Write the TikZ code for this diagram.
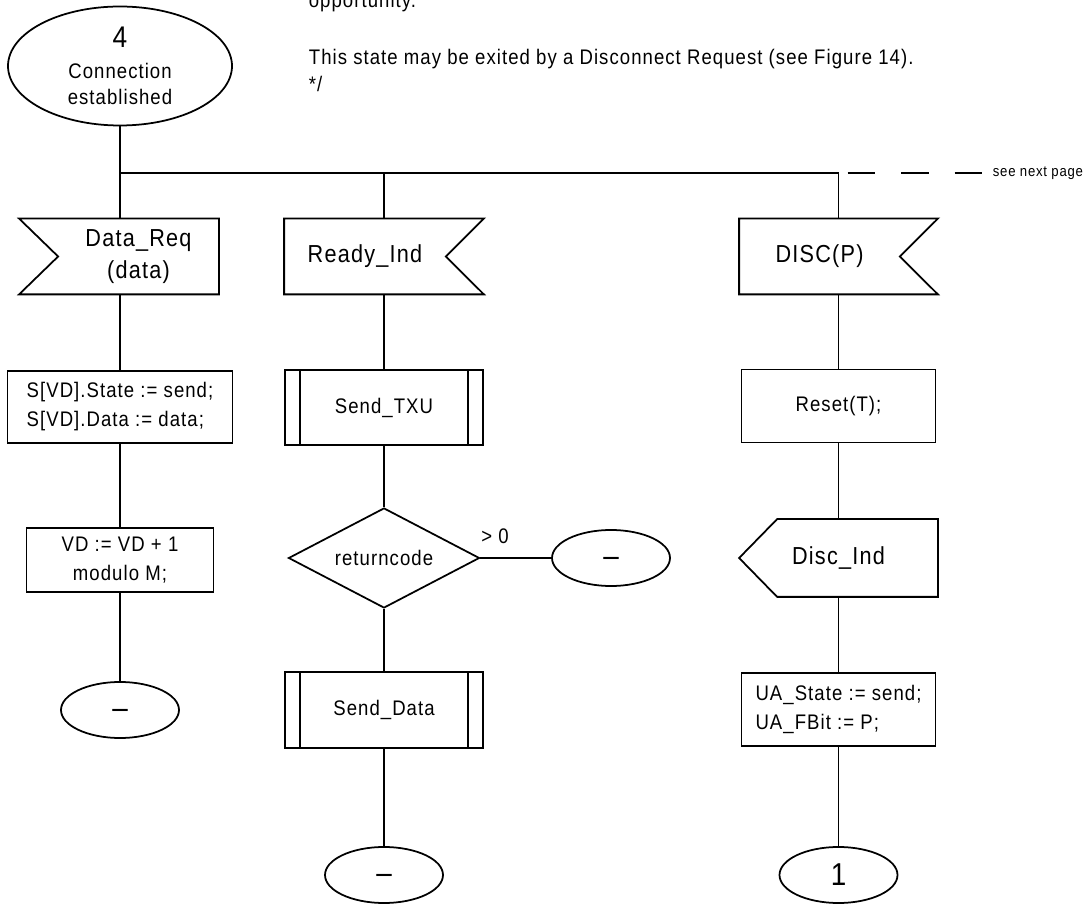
\documentclass[tikz,border=0pt]{standalone}
\usepackage{fontspec}
\setmainfont{Liberation Sans}[FakeStretch=0.88,LetterSpace=5]
\usetikzlibrary{shapes.geometric}

\newcommand{\nodash}{\raisebox{-4.9pt}[0pt][0pt]{\textendash}}

\tikzset{
  sig/.style={rectangle, minimum height=1.48cm, inner sep=0pt, align=center,
    font=\fontsize{14}{18.5}\selectfont},
  task/.style={draw, rectangle, inner sep=2pt},
  term/.style={draw, ellipse, minimum width=2.36cm, minimum height=1.12cm,
    inner sep=0pt, font=\fontsize{18}{18}\selectfont}
}

\begin{document}
\begin{tikzpicture}[line width=1pt, font=\fontsize{12}{16.5}\selectfont]
\useasboundingbox (0,0) rectangle (21.7,18.12);

% Commento in alto
\node[anchor=base west, inner sep=0pt] (cm1) at (6.16,17.96) {opportunity.};
\node[anchor=base west, inner sep=0pt] (cm2) at (6.16,16.82) {This state may be exited by a Disconnect Request (see Figure 14).};
\node[anchor=base west, inner sep=0pt] (cm3) at (6.16,16.28) {*/};

% Stato
\node[draw, ellipse, minimum width=4.48cm, minimum height=2.38cm, inner sep=0pt, align=center, font=\fontsize{12}{14.6}\selectfont] (state) at (2.40,16.80) {{\fontsize{17}{17}\selectfont 4}\\[3pt]Connection\\established};

% Linea di diramazione
\coordinate (b1) at (2.40,14.66);
\coordinate (b2) at (7.68,14.66);
\coordinate (b3) at (16.77,14.66);
\coordinate (bend) at (19.64,14.66);
\draw (state.south) -- (b1);
\draw (b1) -- (b3);
\draw[dash pattern=on 0.55cm off 0.52cm, dash phase=0.89cm] (b3) -- (bend);
\node[anchor=west, inner sep=0pt, font=\fontsize{8.5}{10}\selectfont] (next) at ([xshift=0.2cm]bend) {see next page};

% Segnali
\node[sig, minimum width=3.18cm] (dreq) at (2.77,12.99) {Data\_Req\\(data)};
\draw ([xshift=-0.78cm]dreq.north west) -- (dreq.north east) -- (dreq.south east) -- ([xshift=-0.78cm]dreq.south west) -- (dreq.west) -- cycle;

\node[sig, minimum width=3.20cm] (rind) at (7.30,12.99) {Ready\_Ind};
\draw (rind.north west) -- ([xshift=0.76cm]rind.north east) -- (rind.east) -- ([xshift=0.76cm]rind.south east) -- (rind.south west) -- cycle;

\node[sig, minimum width=3.18cm] (disc) at (16.39,12.99) {DISC(P)};
\draw (disc.north west) -- ([xshift=0.76cm]disc.north east) -- (disc.east) -- ([xshift=0.76cm]disc.south east) -- (disc.south west) -- cycle;

% Colonna 1
\node[task, minimum width=4.50cm, minimum height=1.44cm, align=left] (act1) at (2.40,9.98) {S[VD].State := send;\\S[VD].Data := data;};
\node[task, minimum width=3.74cm, minimum height=1.28cm, align=center] (vd) at (2.40,6.92) {VD := VD + 1\\modulo M;};
\node[term] (e1) at (2.40,3.92) {\nodash};

% Colonna 2
\node[task, minimum width=3.96cm, minimum height=1.50cm] (tx) at (7.68,9.97) {Send\_TXU};
\draw ([xshift=0.32cm]tx.north west) -- ([xshift=0.32cm]tx.south west);
\draw ([xshift=-0.32cm]tx.north east) -- ([xshift=-0.32cm]tx.south east);
\node[draw, diamond, aspect=1.9, minimum width=3.82cm, minimum height=2.0cm, inner sep=0pt] (rc) at (7.68,6.96) {returncode};
\node[anchor=south west, inner sep=0pt] (gt) at ([yshift=0.26cm]rc.east) {> 0};
\node[term] (e2) at (12.22,6.96) {\nodash};
\node[task, minimum width=3.96cm, minimum height=1.52cm] (sd) at (7.68,3.92) {Send\_Data};
\draw ([xshift=0.32cm]sd.north west) -- ([xshift=0.32cm]sd.south west);
\draw ([xshift=-0.32cm]sd.north east) -- ([xshift=-0.32cm]sd.south east);
\node[term] (e3) at (7.68,0.62) {\nodash};

% Colonna 3
\node[task, minimum width=3.88cm, minimum height=1.46cm] (rst) at (16.77,10.0) {Reset(T);};
\node[sig, minimum width=3.94cm, minimum height=1.52cm] (dind) at (16.77,6.96) {Disc\_Ind};
\draw ([xshift=0.76cm]dind.north west) -- (dind.north east) -- (dind.south east) -- ([xshift=0.76cm]dind.south west) -- (dind.west) -- cycle;
\node[task, minimum width=3.88cm, minimum height=1.46cm, align=left] (ua) at (16.77,3.93) {UA\_State := send;\\UA\_FBit := P;};
\node[term] (e4) at (16.77,0.62) {1};

% Collegamenti
\draw (b1) -- (b1 |- dreq.north);
\draw (dreq.south -| act1.north) -- (act1.north);
\draw (act1.south) -- (vd.north);
\draw (vd.south) -- (e1.north);

\draw (b2) -- (b2 |- rind.north);
\draw (rind.south -| tx.north) -- (tx.north);
\draw (tx.south) -- (rc.north);
\draw (rc.east) -- (e2.west);
\draw (rc.south) -- (sd.north);
\draw (sd.south) -- (e3.north);

\draw (b3) -- (b3 |- disc.north);
\draw (disc.south -| rst.north) -- (rst.north);
\draw (rst.south) -- (dind.north);
\draw (dind.south) -- (ua.north);
\draw (ua.south) -- (e4.north);
\end{tikzpicture}
\end{document}
